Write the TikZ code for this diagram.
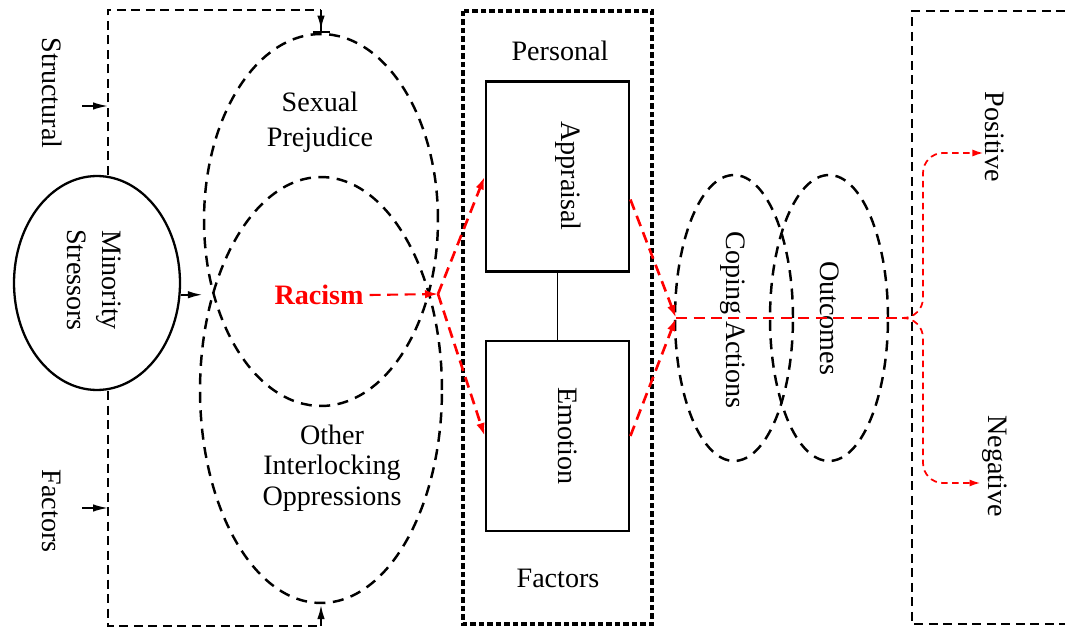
\documentclass[tikz,border=0pt]{standalone}
\usepackage{fontspec}
\setmainfont{Liberation Serif}
\usetikzlibrary{calc, arrows.meta, positioning, shapes.geometric}

\begin{document}
\begin{tikzpicture}[x=0.02cm, y=-0.02cm, font=\fontsize{16}{20}\selectfont,
    ell/.style={ellipse, draw, line width=1.4pt, dash pattern=on 2.2mm off 1.5mm, inner sep=0pt},
    vtext/.style={rotate=-90, align=center, inner sep=1pt},
    brk/.style={line width=1.3pt, dash pattern=on 1.8mm off 1.1mm},
    arr/.style={-{Latex[length=3mm, width=1.5mm]}},
    stage/.style={rectangle, draw, line width=1.6pt, minimum width=2.86cm, minimum height=3.8cm},
    redarr/.style={red, line width=1.5pt, dash pattern=on 2.2mm off 1.3mm, -{Latex[length=2.6mm, width=1.7mm]}},
    redbr/.style={red, line width=1pt, dash pattern=on 1.3mm off 0.9mm, rounded corners=4mm, -{Latex[length=2.2mm, width=1.4mm]}}]
  \useasboundingbox (0,0) rectangle (1065,628);

  % minority stressors
  \node[ellipse, draw, line width=1.3pt, minimum width=3.32cm, minimum height=4.28cm] (ms) at (97,283) {};
  \node[vtext] (mstxt) at (94,280) {Minority\\Stressors};
  \node[vtext] (stru) at (52,93) {Structural};
  \node[vtext] (sfac) at (52,511) {Factors};

  % prejudice ellipses
  \node[ell, minimum width=4.68cm, minimum height=7.44cm] (sp) at (321,220) {};
  \node[ell, minimum width=4.84cm, minimum height=8.52cm] (oio) at (321,390) {};
  \node[align=center] (sptxt) at (320,122) {Sexual\\Prejudice};
  \node[align=center, font=\fontsize{16}{17.5}\selectfont] (oiotxt) at (332,468) {Other\\Interlocking\\Oppressions};
  \node[red, font=\fontsize{16}{20}\selectfont\bfseries] (rac) at (319,295) {Racism};

  % structural factors bracket
  \draw[brk] ($(ms.north)+(11,0)$) |- ($(sp.north)+(0,-23)$) coordinate (bt);
  \draw[brk, -{Latex[length=3mm, width=1.5mm] Bar[width=3.4mm]}] (bt) -- (sp.north);
  \draw[brk] ($(ms.south)+(11,0)$) |- ($(oio.south)+(0,22)$) coordinate (bb);
  \draw[brk, arr] (bb) -- (oio.south);
  \coordinate (sa) at (82,106);
  \coordinate (fa) at (82,508);
  \draw[line width=1pt, arr] (sa) -- ++(26,0);
  \draw[line width=1pt, arr] (fa) -- ++(26,0);
  \coordinate (mo) at (ms.-8);
  \draw[line width=1.2pt, arr] (mo) -- (mo -| sp.west);

  % personal factors
  \draw[line width=2.1pt, dash pattern=on 1.1mm off 0.6mm] (463,11) rectangle (652,624);
  \node (pers) at (560,51) {Personal};
  \node (pfac) at (558,578) {Factors};
  \node[stage] (app) at (557.5,176.5) {};
  \node[stage] (emo) at (557.5,436) {};
  \node[vtext] (apptxt) at (568,176) {Appraisal};
  \node[vtext] (emotxt) at (568,436) {Emotion};
  \draw[line width=1pt] (app) -- (emo);

  % coping and outcomes
  \node[ell, minimum width=2.36cm, minimum height=5.72cm] (cop) at (734,318) {};
  \node[ell, minimum width=2.36cm, minimum height=5.72cm] (outc) at (829,318) {};
  \node[vtext] (coptxt) at (733,320) {Coping Actions};
  \node[vtext] (outtxt) at (830,318) {Outcomes};

  % outcome box
  \draw[brk] (1065,11) -- (912,11) -- (912,624) -- (1065,624);
  \node[vtext] (posi) at (995,137) {Positive};
  \node[vtext] (nega) at (995,466) {Negative};

  % red paths
  \coordinate (jl) at (438,294);
  \coordinate (jr) at (676,318);
  \coordinate (jb) at (902,318);
  \draw[redarr, line width=1.2pt] (rac.east) -- (jl);
  \draw[redarr] (jl) -- (app.west);
  \draw[redarr] (jl) -- (emo.west);
  \draw[redarr] ($(app.east)+(0,23)$) -- (jr);
  \draw[redarr] (emo.east) -- (jr);
  \draw[redarr, -] (jr) -- (jb);
  \draw[redbr] (jb) -| (923,153) -- (posi.south |- 0,153);
  \draw[redbr] (jb) -| (923,483) -- (nega.south |- 0,483);
\end{tikzpicture}
\end{document}
